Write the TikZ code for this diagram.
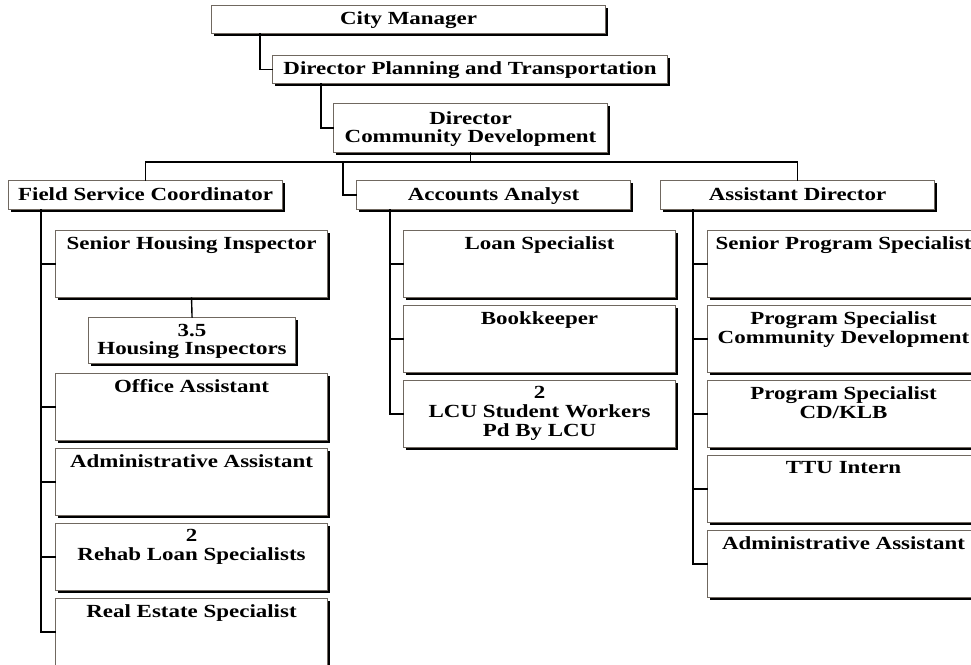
\documentclass[tikz,border=0pt]{standalone}
\usepackage{fontspec}
\setmainfont{Liberation Serif}[FakeStretch=1.24]
\usetikzlibrary{shadows}

\definecolor{boxgray}{RGB}{112,104,96}

\tikzset{
  box/.style={draw=boxgray, line width=1.1pt, fill=white, anchor=north west,
    drop shadow={shadow xshift=2.2pt, shadow yshift=-2.2pt, fill=black, opacity=1},
    font=\bfseries\fontsize{18.5}{18.5}\selectfont, align=center, inner sep=0pt},
  head/.style={box, minimum width=274, minimum height=28, text depth=2pt},
  post/.style={box, minimum width=272, minimum height=67, label={[lbl]north:#1}},
  lbl/.style={anchor=north, inner sep=0pt, yshift=-6.5pt, align=center,
    font=\bfseries\fontsize{18.5}{19}\selectfont},
  link/.style={line width=1.4pt, black},
}

\begin{document}
\begin{tikzpicture}[x=1pt, y=-1pt, line cap=rect, line join=miter]
  \useasboundingbox (0,0) rectangle (971,664);

  % Top of the chain
  \node[head, minimum width=394] (cm) at (211,5) {City Manager};
  \node[head, minimum width=395] (dpt) at (272,55) {Director Planning and Transportation};
  \node[head, minimum height=49] (dcd) at (333,103) {Director\\Community Development};

  % Division heads
  \node[head, minimum height=29] (fsc) at (8,180) {Field Service Coordinator};
  \node[head, minimum height=29] (aa) at (356,180) {Accounts Analyst};
  \node[head, minimum height=29] (ad) at (660,180) {Assistant Director};

  % Field service staff
  \node[post={Senior Housing Inspector}] (shi) at (55,230) {};
  \node[head, minimum width=207, minimum height=46] (hi) at (88,317) {3.5\\Housing Inspectors};
  \node[post={Office Assistant}] (oa) at (55,373) {};
  \node[post={Administrative Assistant}] (fadm) at (55,448) {};
  \node[post={2\\Rehab Loan Specialists}] (rehab) at (55,523) {};
  \node[post={Real Estate Specialist}] (res) at (55,598) {};

  % Accounts staff
  \node[post={Loan Specialist}] (loan) at (403,230) {};
  \node[post={Bookkeeper}] (book) at (403,305) {};
  \node[post={2\\LCU Student Workers\\Pd By LCU}] (lcu) at (403,380) {};

  % Assistant director staff
  \node[post={Senior Program Specialist}] (sps) at (707,230) {};
  \node[post={Program Specialist\\Community Development}] (pscd) at (707,305) {};
  \node[post={Program Specialist\\CD/KLB}] (pskl) at (707,380) {};
  \node[post={TTU Intern}] (ttu) at (707,455) {};
  \node[post={Administrative Assistant}] (aadm) at (707,530) {};

  % Connectors
  \draw[link] ([xshift=49]cm.south west) |- (dpt.west);
  \draw[link] ([xshift=49]dpt.south west) |- (dcd.west);
  \coordinate (bus) at ([yshift=-9]dcd.south);
  \draw[link] (dcd.south) -- (bus);
  \draw[link] (fsc.north) |- (bus) -| (ad.north);
  \coordinate (aabend) at ([xshift=-13]aa.west);
  \draw[link] (aabend |- bus) |- (aa.west);

  \foreach \c in {shi,oa,fadm,rehab,res}
    \draw[link] ([xshift=33]fsc.south west) |- (\c.west);
  \draw[link] (shi.south) -- (hi.north);
  \foreach \c in {loan,book,lcu}
    \draw[link] ([xshift=34]aa.south west) |- (\c.west);
  \foreach \c in {sps,pscd,pskl,ttu,aadm}
    \draw[link] ([xshift=33]ad.south west) |- (\c.west);
\end{tikzpicture}
\end{document}
